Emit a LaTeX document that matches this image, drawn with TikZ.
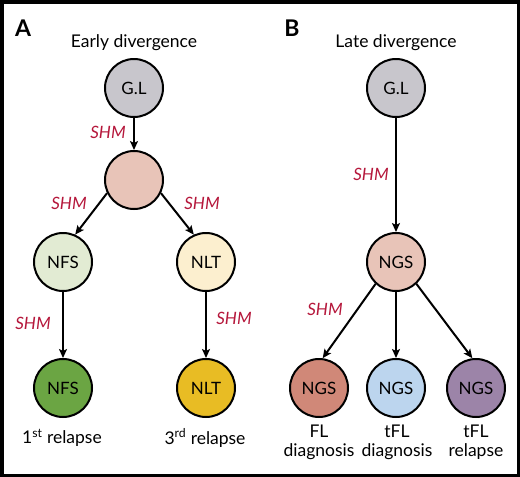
\documentclass[tikz,border=0pt]{standalone}
\usepackage{fontspec}
\setmainfont{Lato}
\usetikzlibrary{arrows.meta}
\definecolor{glgray}{HTML}{C8C6CC}
\definecolor{pinkc}{HTML}{E8C4B8}
\definecolor{nfsl}{HTML}{E2EBD3}
\definecolor{nltl}{HTML}{FCEFCF}
\definecolor{nfsd}{HTML}{6BA543}
\definecolor{nltd}{HTML}{E8BC24}
\definecolor{flc}{HTML}{D08878}
\definecolor{tfld}{HTML}{BCD5EE}
\definecolor{tflr}{HTML}{9C84A8}
\definecolor{shmc}{HTML}{B5173B}
\begin{document}
\begin{tikzpicture}[x=1pt,y=-1pt,
  circ/.style={circle,draw=black,line width=2pt,minimum size=58pt,inner sep=0pt,font=\fontsize{17}{20}\selectfont},
  arr/.style={-{Stealth[length=9pt,width=8pt,inset=2pt]},line width=2pt},
  shm/.style={text=shmc,font=\fontsize{17}{20}\selectfont\itshape},
  lbl/.style={font=\fontsize{17.5}{20}\selectfont,align=center},
  panel/.style={font=\fontsize{23}{26}\selectfont\bfseries}]
\useasboundingbox (0,0) rectangle (520,477);
\draw[line width=3.5pt] (1.75,1.75) rectangle (518.25,475.25);
% Panel A
\node[panel] (pa) at (23,28) {A};
\node[lbl] (ta) at (134,43) {Early divergence};
\node[circ,fill=glgray] (a0) at (134,88) {G.L};
\node[circ,fill=pinkc] (a1) at (134,180) {};
\node[circ,fill=nfsl] (a2) at (63,262) {NFS};
\node[circ,fill=nltl] (a3) at (206,262) {NLT};
\node[circ,fill=nfsd] (a4) at (63,388) {NFS};
\node[circ,fill=nltd] (a5) at (206,388) {NLT};
\draw[arr] (a0) -- (a1);
\draw[arr] (a1.206) -- (a2.66);
\draw[arr] (a1.334) -- (a3.114);
\draw[arr] (a2) -- (a4);
\draw[arr] (a3) -- (a5);
\node[shm] (s1) at (108,132) {SHM};
\node[shm] (s2) at (69,203) {SHM};
\node[shm] (s3) at (202,203) {SHM};
\node[shm] (s4) at (33,323) {SHM};
\node[shm] (s5) at (234,318) {SHM};
\node[lbl] (r1) at (62,438) {1\textsuperscript{st} relapse};
\node[lbl] (r3) at (205,438) {3\textsuperscript{rd} relapse};
% Panel B
\node[panel] (pb) at (292,28) {B};
\node[lbl] (tb) at (396,43) {Late divergence};
\node[circ,fill=glgray] (b0) at (396,88) {G.L};
\node[circ,fill=pinkc] (b1) at (396,262) {NGS};
\node[circ,fill=flc] (b2) at (319,388) {NGS};
\node[circ,fill=tfld] (b3) at (396,388) {NGS};
\node[circ,fill=tflr] (b4) at (476,388) {NGS};
\draw[arr] (b0) -- (b1);
\draw[arr] (b1.227) -- (b2.83);
\draw[arr] (b1) -- (b3);
\draw[arr] (b1.313) -- (b4.97);
\node[shm] (s6) at (371,174) {SHM};
\node[shm] (s7) at (325,309) {SHM};
\node[lbl] (l1) at (319,442.5) {FL\\[-1pt]diagnosis};
\node[lbl] (l2) at (397,442.5) {tFL\\[-1pt]diagnosis};
\node[lbl] (l3) at (476,442.5) {tFL\\[-1pt]relapse};
\end{tikzpicture}
\end{document}
